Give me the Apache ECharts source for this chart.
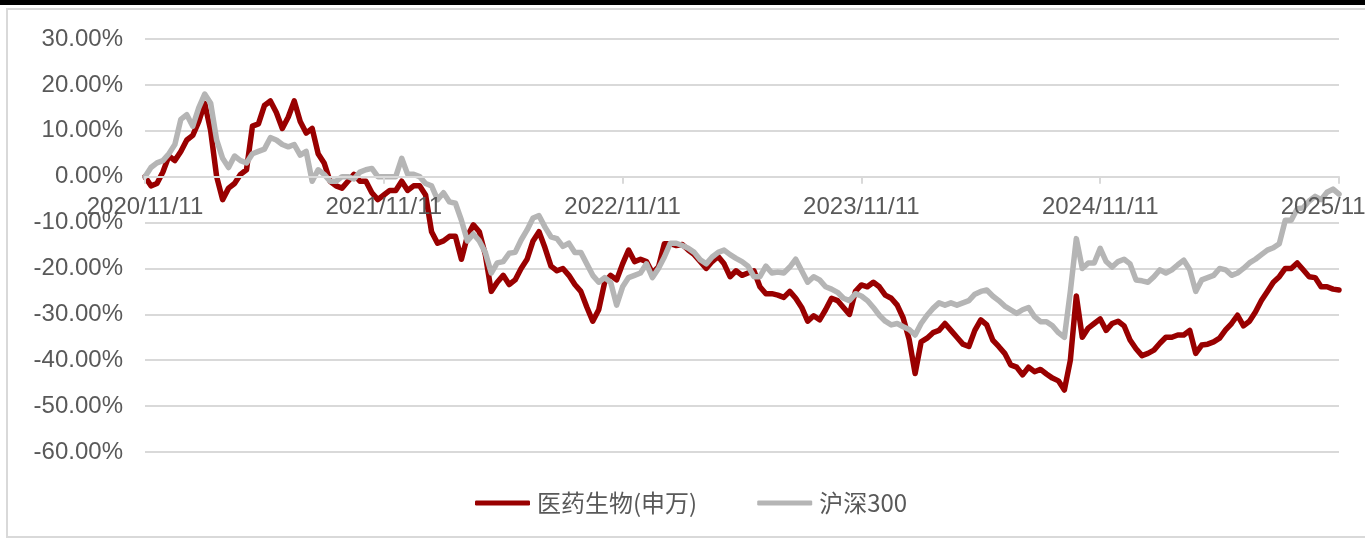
<!DOCTYPE html>
<html>
<head>
<meta charset="utf-8">
<script src="https://cdn.jsdelivr.net/npm/echarts@6/dist/echarts.min.js"></script>
<style>
html,body{margin:0;padding:0;background:#fff;}
#chart{width:1365px;height:540px;}
</style>
</head>
<body>
<div id="chart"></div>
<script>
// ---- data (percent returns, sampled along the time axis) ----
const tickLabels = ['2020/11/11','2021/11/11','2022/11/11','2023/11/11','2024/11/11','2025/11/11'];
const seriesNames = ['医药生物(申万)', '沪深300'];

const pharma = [
  0, -2, -1.5, 1, 4.5, 3.5, 5.5, 8, 9, 12,
  16, 10, 0, -5, -2.5, -1.5, 0.5, 1.5, 11, 11.5,
  15.5, 16.5, 14, 10.5, 13, 16.5, 12, 9.5, 10.5, 5,
  3, -1, -2, -2.5, -1, 0.5, -1, -1, -3.5, -5,
  -4, -3, -3, -1, -3, -2, -2, -4, -12, -14.5,
  -14, -13, -13, -18, -13, -10.5, -12, -17, -25, -23,
  -21.5, -23.5, -22.5, -20, -18, -14, -12, -15.5, -19.5, -20.5,
  -20, -21.5, -23.5, -25, -28.4, -31.5, -29, -23, -21.5, -22.5,
  -19, -16, -18.5, -18, -18.5, -21, -19.7, -14.6, -14.6, -15,
  -14.8, -16, -17, -18.5, -20, -18.5, -17.4, -19, -21.8, -20.5,
  -21.5, -21, -20.5, -24, -25.5, -25.5, -25.8, -26.3, -25, -26.5,
  -28.5, -31.5, -30.3, -31.2, -29, -26.5, -27, -28.5, -30, -25,
  -23.6, -24, -23, -24, -25.8, -26.5, -28, -30.8, -35.5, -42.9,
  -36, -35.2, -34, -33.5, -32, -33.5, -35, -36.5, -37, -33.5,
  -31.2, -32.3, -35.6, -37, -38.5, -41, -41.5, -43.2, -41.5, -42.5,
  -42, -43, -43.9, -44.5, -46.5, -40, -26, -35, -33, -32,
  -31, -33.5, -32, -31.5, -32.5, -35.6, -37.5, -39, -38.5, -37.8,
  -36.3, -35, -35, -34.5, -34.5, -33.5, -38.5, -36.7, -36.5, -36,
  -35.2, -33.4, -32, -30.2, -32.5, -31.5, -29.5, -27, -25, -23,
  -21.8, -20, -20, -18.8, -20.3, -21.8, -22, -24, -24, -24.5,
  -24.7
];

const hs300 = [
  0, 2, 3, 3.5, 5, 7, 12.5, 13.5, 11, 15,
  18, 16, 8, 4, 2, 4.5, 3.5, 3, 5, 5.5,
  6, 8.5, 8, 7, 6.5, 7, 4.7, 5.5, -1, 1.5,
  0.5, -1, -1, 0, 0, -0.5, 1, 1.5, 1.8, 0,
  0, 0, 0, 4, 0.5, 0.5, 0, -1.5, -2, -5,
  -3.5, -5.5, -5.8, -9.5, -14, -12.5, -14, -16.5, -21, -18.8,
  -18.5, -16.7, -16.5, -13.8, -11.6, -9, -8.5, -11, -13.1, -13.5,
  -15.2, -14.5, -16.5, -16.5, -19, -21.5, -23, -22, -23, -28,
  -24, -22, -21.5, -21, -19, -22, -20, -17.5, -14.5, -14.5,
  -15, -15.6, -16.5, -18.1, -19, -17.5, -16.5, -16, -17, -17.8,
  -18.5, -19.5, -21.8, -21.8, -19.5, -21, -20.8, -21, -19.7, -18,
  -20.5, -23, -21.8, -22.5, -24, -24.5, -25.2, -26.5, -27, -25.5,
  -26, -27, -28.5, -30.2, -31.5, -32.3, -32, -32.7, -33.3, -34.5,
  -32, -30.2, -28.7, -27.5, -28, -27.5, -28, -27.5, -27, -25.6,
  -25, -24.7, -26, -27, -28.2, -29, -29.8, -29, -28.5, -30.5,
  -31.6, -31.6, -32.5, -34, -35, -25, -13.5, -20, -18.8, -18.8,
  -15.6, -18.5, -19.7, -18.5, -18, -19, -22.5, -22.7, -23, -21.8,
  -20.3, -21, -20.3, -19.2, -18.2, -20.3, -25, -22.5, -22, -21.5,
  -20, -20.3, -21.5, -21, -20, -18.8, -18, -17, -16, -15.5,
  -14.6, -9.5, -9.5, -7, -6.8, -5.3, -4.3, -5, -3.4, -2.7,
  -3.8
];

const POINTS_PER_YEAR = 40;
const categories = pharma.map((_, i) =>
  i % POINTS_PER_YEAR === 0 ? tickLabels[i / POINTS_PER_YEAR] : 'p' + i);
const isTick = (i) => i % POINTS_PER_YEAR === 0;

const Y_MIN = -60, Y_MAX = 30;
const GRID_TOP = 39, GRID_BOTTOM = 88, HEIGHT = 540;
// shift the category axis up from the grid bottom to the 0% line
const plotH = HEIGHT - GRID_TOP - GRID_BOTTOM;
const zeroOffset = -plotH * (0 - Y_MIN) / (Y_MAX - Y_MIN);

const chart = echarts.init(document.getElementById('chart'), null, {renderer: 'canvas'});
const numFont = 'Liberation Sans, Arial, sans-serif';
const cjkFont = 'Noto Sans CJK SC, sans-serif';

chart.setOption({
  animation: false,
  backgroundColor: '#ffffff',
  graphic: [
    {type: 'rect', left: 0, top: 0, shape: {x: 0, y: 0, width: 1365, height: 5}, style: {fill: '#000'}, silent: true},
    {type: 'rect', shape: {x: 7, y: 9, width: 1400, height: 528}, style: {fill: 'none', stroke: '#d9d9d9', lineWidth: 2}, silent: true, z: -1}
  ],
  grid: {left: 145, right: 26, top: GRID_TOP, bottom: GRID_BOTTOM, containLabel: false, outerBoundsMode: 'none'},
  legend: {
    left: 470, top: 486,
    itemWidth: 55, itemHeight: 5, itemGap: 60,
    icon: 'roundRect',
    textStyle: {fontFamily: cjkFont, fontSize: 24, color: '#595959', padding: [0,0,0,2]},
    data: seriesNames
  },
  xAxis: {
    type: 'category',
    data: categories,
    boundaryGap: false,
    position: 'bottom',
    offset: zeroOffset,
    z: 5,
    axisLine: {onZero: false, lineStyle: {color: '#d9d9d9', width: 2}},
    axisTick: {show: true, interval: isTick, length: 7, lineStyle: {color: '#d9d9d9', width: 2}},
    axisLabel: {
      interval: isTick, margin: 19, hideOverlap: false,
      fontFamily: numFont, fontSize: 24, color: '#595959',
      formatter: (v) => v
    },
    splitLine: {show: false}
  },
  yAxis: {
    type: 'value',
    min: Y_MIN, max: Y_MAX, interval: 10,
    axisLine: {show: false},
    axisTick: {show: false},
    axisLabel: {
      margin: 22, fontFamily: numFont, fontSize: 24, color: '#595959',
      formatter: (v) => v.toFixed(2) + '%'
    },
    splitLine: {lineStyle: {color: '#d9d9d9', width: 2}}
  },
  series: [
    {
      name: seriesNames[0], type: 'line', data: pharma, showSymbol: false, symbol: 'none',
      lineStyle: {color: '#990000', width: 5.5, cap: 'round', join: 'round'},
      itemStyle: {color: '#990000'}
    },
    {
      name: seriesNames[1], type: 'line', data: hs300, showSymbol: false, symbol: 'none',
      lineStyle: {color: '#b5b5b5', width: 5.5, cap: 'round', join: 'round'},
      itemStyle: {color: '#b5b5b5'}
    }
  ]
});
</script>
</body>
</html>
